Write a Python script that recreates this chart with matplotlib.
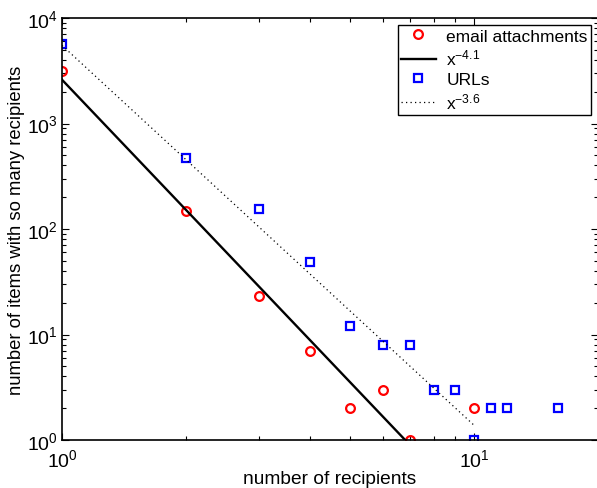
import matplotlib
matplotlib.use("Agg")
import matplotlib.pyplot as plt
import numpy as np
from matplotlib.ticker import LogLocator, NullFormatter

plt.rcParams['font.family'] = ['Liberation Sans', 'DejaVu Sans']
plt.rcParams['mathtext.default'] = 'regular'

# data
email_x = [1, 2, 3, 4, 5, 6, 7, 10]
email_y = [3150, 148, 23, 7, 2, 3, 1, 2]
url_x = [1, 2, 3, 4, 5, 6, 7, 8, 9, 10, 11, 12, 16]
url_y = [5670, 471, 155, 49, 12, 8, 8, 3, 3, 1, 2, 2, 2]
fit_email_c, fit_email_k = 2600, 4.1
fit_url_c, fit_url_k = 5500, 3.6
fit_x = [1, 10]

fig = plt.figure(figsize=(5.97, 4.89), dpi=100)
ax = fig.add_axes([62/597, 48/489, 536/597, 422/489])

xx = np.logspace(np.log10(fit_x[0]), np.log10(fit_x[1]), 100)
ax.plot(email_x, email_y, 'o', mfc='none', mec='red', mew=1.6, ms=6.3, label='email attachments')
ax.plot(xx, fit_email_c * xx ** (-fit_email_k), '-', color='black', lw=1.7, label=r'x$^{-4.1}$')
ax.plot(url_x, url_y, 's', mfc='none', mec='blue', mew=1.6, ms=5.2, label='URLs')
ax.plot(xx, fit_url_c * xx ** (-fit_url_k), linestyle=(0, (1, 2.6)), color='black', lw=0.9, label=r'x$^{-3.6}$')

ax.set_xscale('log')
ax.set_yscale('log')
ax.set_xlim(1, 20)
ax.set_ylim(1, 1e4)

ax.xaxis.set_major_locator(LogLocator(base=10, numticks=10))
ax.xaxis.set_minor_locator(LogLocator(base=10, subs=np.arange(2, 10), numticks=10))
ax.xaxis.set_minor_formatter(NullFormatter())
ax.yaxis.set_minor_formatter(NullFormatter())

ax.tick_params(which='both', direction='in', top=True, right=True, labelsize=14, width=0.8)
ax.tick_params(which='major', length=5)
ax.tick_params(which='minor', length=3)
ax.tick_params(axis='x', which='major', pad=6)
ax.tick_params(axis='y', which='major', pad=3)
for s in ax.spines.values():
    s.set_linewidth(1.2)

ax.set_xlabel('number of recipients', fontsize=13.8, labelpad=0)
ax.set_ylabel('number of items with so many recipients', fontsize=13.3, labelpad=1)

leg = ax.legend(loc='upper right', fontsize=12.5, frameon=True, fancybox=False,
                edgecolor='black', framealpha=1, borderaxespad=0.4,
                handlelength=2.0, labelspacing=0.25, borderpad=0.2, handletextpad=0.6)
leg.get_frame().set_linewidth(1.0)

fig.savefig('out.png', dpi=100)
